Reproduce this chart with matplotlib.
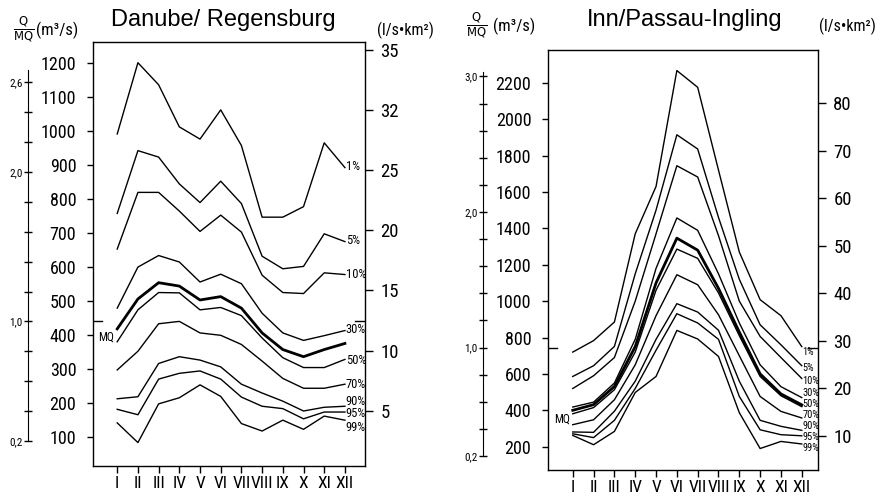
import matplotlib
matplotlib.use("Agg")
import matplotlib.pyplot as plt
from matplotlib import font_manager
import numpy as np

months = ["I", "II", "III", "IV", "V", "VI", "VII", "VIII", "IX", "X", "XI", "XII"]
levels = ["1%", "5%", "10%", "30%", "50%", "70%", "90%", "95%", "99%"]

# Danube / Regensburg, monthly discharge (m3/s) per exceedance level
danube_01 = [992, 1202, 1137, 1013, 977, 1063, 958, 747, 747, 778, 966, 893]
danube_05 = [758, 943, 924, 845, 790, 853, 787, 632, 595, 602, 698, 675]
danube_10 = [653, 820, 820, 765, 705, 753, 703, 576, 525, 522, 583, 578]
danube_30 = [479, 600, 634, 615, 556, 579, 551, 464, 406, 384, 398, 413]
danube_mq = [418, 506, 554, 544, 503, 513, 479, 406, 357, 336, 357, 375]
danube_50 = [380, 474, 525, 524, 474, 481, 457, 391, 333, 304, 304, 328]
danube_70 = [297, 352, 433, 440, 406, 399, 372, 323, 272, 243, 243, 255]
danube_90 = [212, 218, 316, 336, 326, 306, 255, 229, 205, 176, 187, 190]
danube_95 = [181, 165, 270, 287, 294, 270, 217, 190, 183, 153, 173, 173]
danube_99 = [141, 83, 197, 215, 253, 219, 139, 117, 149, 122, 161, 149]
danube_MQ = 440
danube_area = 35400  # km2

# Inn / Passau-Ingling
inn_01 = [720, 783, 885, 1370, 1630, 2267, 2175, 1720, 1270, 1008, 920, 750]
inn_05 = [586, 645, 751, 1150, 1500, 1914, 1836, 1460, 1120, 870, 760, 645]
inn_10 = [520, 590, 690, 1000, 1370, 1744, 1682, 1360, 1000, 806, 690, 575]
inn_30 = [418, 445, 550, 790, 1180, 1457, 1389, 1150, 880, 650, 530, 470]
inn_mq = [400, 431, 531, 750, 1100, 1346, 1280, 1070, 830, 600, 490, 430]
inn_50 = [381, 415, 513, 720, 1060, 1286, 1235, 1045, 810, 586, 480, 420]
inn_70 = [321, 348, 458, 650, 920, 1145, 1090, 925, 700, 476, 394, 358]
inn_90 = [281, 279, 395, 560, 790, 986, 940, 840, 560, 345, 312, 290]
inn_95 = [271, 250, 345, 520, 730, 931, 880, 790, 476, 293, 266, 260]
inn_99 = [262, 211, 284, 498, 586, 839, 792, 696, 387, 190, 229, 215]
inn_MQ = 745
inn_area = 26084  # km2


def pick_font(candidates):
    names = {f.name for f in font_manager.fontManager.ttflist}
    for c in candidates:
        if c in names:
            return [c, "DejaVu Sans"]
    return ["DejaVu Sans"]


NARROW = pick_font(["Liberation Sans Narrow", "Arial Narrow", "Roboto Condensed",
                    "Liberation Sans"])
W, H = 889, 501


def rect(x0, y0, x1, y1):
    return [x0 / W, 1 - y1 / H, (x1 - x0) / W, (y1 - y0) / H]


def panel(fig, box, curves, mq_curve, mq, area, ylim, xlim, qticks, rticks,
          rlabels, mticks, mlabels, mbounds, label_dy, label_size, title, title_x):
    ax = fig.add_axes(rect(*box))
    x = np.arange(1, 13)
    for vals in curves:
        ax.plot(x, vals, color="black", lw=1.0)
    ax.plot(x, mq_curve, color="black", lw=2.0)
    for vals, lab, dy in zip(curves, levels, label_dy):
        ax.annotate(lab, (12, vals[-1]), xytext=(0.5, dy), textcoords="offset points",
                    ha="left", va="center", fontsize=label_size, family=NARROW)
    ax.annotate("MQ", (1, mq_curve[0]), xytext=(-2, -6), textcoords="offset points",
                ha="right", va="center", fontsize=8.5, family=NARROW)
    # short MQ marks on both sides
    ax.plot([xlim[0], xlim[0] + 0.45], [mq, mq], color="black", lw=1.0)
    ax.plot([xlim[1] - 0.5, xlim[1]], [mq, mq], color="black", lw=1.0)

    ax.set_xlim(*xlim)
    ax.set_ylim(*ylim)
    ax.set_xticks(x)
    ax.set_xticklabels(months, family=NARROW, fontsize=12.5)
    ax.set_yticks(qticks)
    ax.set_yticklabels([str(t) for t in qticks], family=NARROW, fontsize=13)
    ax.tick_params(axis="y", direction="out", length=4, pad=8, width=1)
    ax.tick_params(axis="x", direction="out", length=5, pad=2, width=1)
    for s in ax.spines.values():
        s.set_linewidth(1.0)

    ax_r = ax.twinx()
    ax_r.set_ylim(ylim[0] * 1000 / area, ylim[1] * 1000 / area)
    ax_r.set_yticks(rticks)
    ax_r.set_yticklabels(rlabels, family=NARROW, fontsize=13.5)
    ax_r.tick_params(axis="y", direction="out", length=6, pad=5, width=1)
    for s in ax_r.spines.values():
        s.set_visible(False)

    ax_m = ax.twinx()
    ax_m.set_ylim(ylim[0] / mq, ylim[1] / mq)
    for name, s in ax_m.spines.items():
        s.set_visible(name == "left")
    ax_m.spines["left"].set_position(("outward", 65 * 72 / 100))
    ax_m.spines["left"].set_bounds(*mbounds)
    ax_m.yaxis.set_ticks_position("left")
    ax_m.set_yticks(mticks)
    ax_m.set_yticklabels(mlabels, family=NARROW, fontsize=8)
    ax_m.tick_params(axis="y", direction="inout", length=6, pad=1, width=1)

    fig.text(title_x / W, 1 - 20 / H, title, ha="center", va="center",
             fontsize=17, family=["Liberation Sans", "DejaVu Sans"])
    return ax


fig = plt.figure(figsize=(W / 100, H / 100), dpi=100)

mticks_d = [round(v, 1) for v in np.arange(0.2, 2.61, 0.2)]
mlab_d = [("%.1f" % v).replace(".", ",") if v in (0.2, 1.0, 2.0, 2.6) else "" for v in mticks_d]
panel(fig, (93, 42, 365, 466),
      [danube_01, danube_05, danube_10, danube_30, danube_50, danube_70,
       danube_90, danube_95, danube_99],
      danube_mq, danube_MQ, danube_area, (14, 1263), (-0.17, 12.97),
      list(range(100, 1201, 100)), [5, 10, 15, 20, 25, 30, 35],
      ["5", "10", "15", "20", "25", "32", "35"], mticks_d, mlab_d, (0.2, 2.68),
      [1, 1, 0, 1, -1, 0, 3.5, -1, -5.5], 9, "Danube/ Regensburg", 223)

mticks_i = [round(v, 1) for v in np.arange(0.2, 3.01, 0.2)]
mlab_i = [("%.1f" % v).replace(".", ",") if v in (0.2, 1.0, 2.0, 3.0) else "" for v in mticks_i]
panel(fig, (548, 50, 818, 470),
      [inn_01, inn_05, inn_10, inn_30, inn_50, inn_70, inn_90, inn_95, inn_99],
      inn_mq, inn_MQ, inn_area, (72, 2380), (-0.19, 12.78),
      list(range(200, 2201, 200)), list(range(10, 81, 10)),
      [str(v) for v in range(10, 81, 10)], mticks_i, mlab_i, (0.2, 3.03),
      [-3.9, -1.7, -1.8, 3.3, 1.9, 2.2, 3.1, -0.9, -2.9], 7.5,
      "Inn/Passau-Ingling", 685)

# axis headers
for qx, mx, rx, yy in [(24, 57, 405, 30), (477, 514, 847, 26)]:
    fig.text(qx / W, 1 - yy / H, r"$\frac{\mathrm{Q}}{\mathrm{MQ}}$", ha="center",
             va="center", fontsize=12)
    fig.text(mx / W, 1 - yy / H, "(m³/s)", ha="center", va="center",
             fontsize=12, family=NARROW)
    fig.text(rx / W, 1 - yy / H, "(l/s•km²)", ha="center", va="center",
             fontsize=11.5, family=NARROW)

fig.savefig("out.png", dpi=100)
